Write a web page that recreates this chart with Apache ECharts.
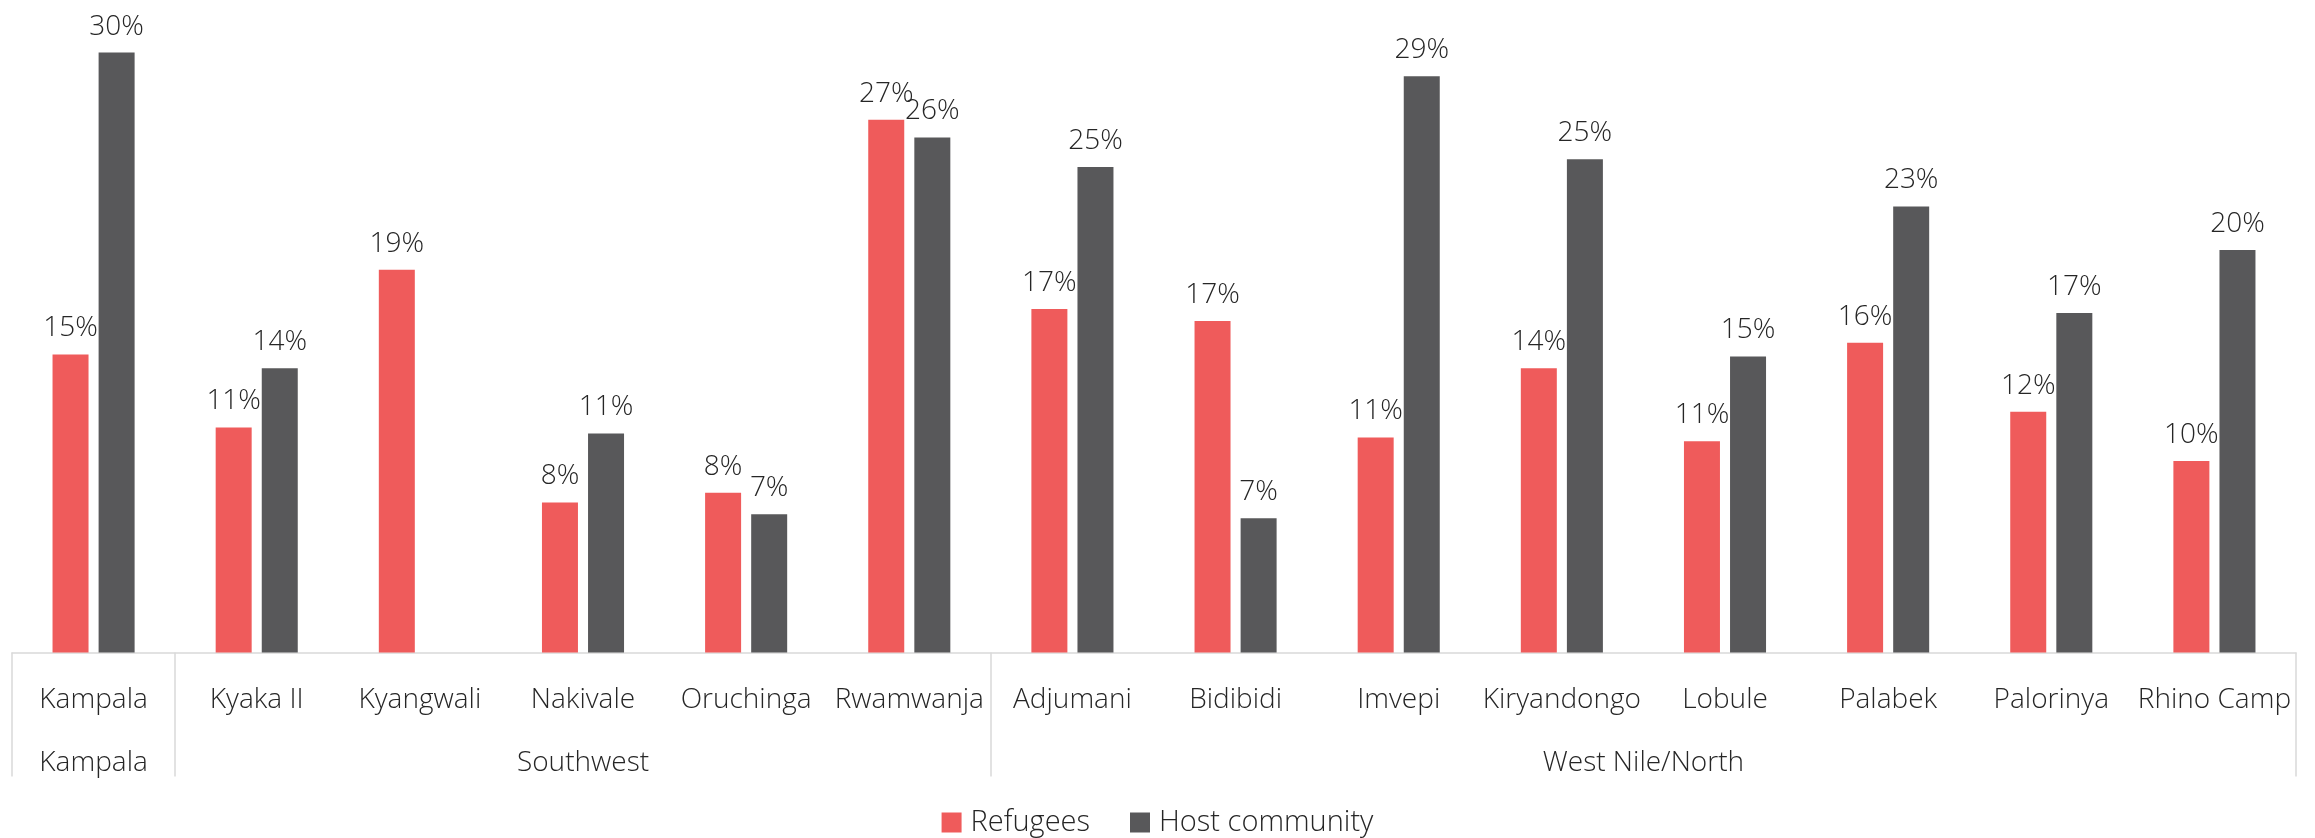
<!DOCTYPE html>
<html>
<head>
<meta charset="utf-8">
<script src="https://cdn.jsdelivr.net/npm/echarts@6/dist/echarts.min.js"></script>
<style>
html,body{margin:0;padding:0;background:#fff;}
#chart{width:2315px;height:838px;}
</style>
</head>
<body>
<div id="chart"></div>
<script>
// ---- data ----
const categories = ['Kampala','Kyaka II','Kyangwali','Nakivale','Oruchinga','Rwamwanja','Adjumani','Bidibidi','Imvepi','Kiryandongo','Lobule','Palabek','Palorinya','Rhino Camp'];
const regions = ['Kampala','Southwest','West Nile/North'];
const regionSizes = [1, 5, 8];
const refugees = [15.1, 11.4, 19.4, 7.6, 8.1, 27.0, 17.4, 16.8, 10.9, 14.4, 10.7, 15.7, 12.2, 9.7];
const host     = [30.4, 14.4, null, 11.1, 7.0, 26.1, 24.6, 6.8, 29.2, 25.0, 15.0, 22.6, 17.2, 20.4];
const seriesNames = ['Refugees', 'Host community'];

// ---- derived group boundaries / centres ----
const bounds = [0];
regionSizes.forEach(s => bounds.push(bounds[bounds.length - 1] + s));
const centres = regions.map((r, i) => (bounds[i] + bounds[i + 1]) / 2);

const FONT = '"Open Sans", "Noto Sans", sans-serif';
const TXT = '#262626';
const LINE = '#D9D9D9';

const chart = echarts.init(document.getElementById('chart'), null, {renderer: 'canvas'});
const labelCfg = {
  show: true,
  position: 'top',
  distance: 12,
  color: TXT,
  fontFamily: FONT,
  fontWeight: 300,
  fontSize: 28,
  formatter: p => Math.round(p.value) + '%'
};
chart.setOption({
  animation: false,
  backgroundColor: '#fff',
  grid: {left: 12, right: 19, top: 21, height: 631.5, containLabel: false},
  legend: {
    data: seriesNames,
    left: 'center',
    top: 803,
    icon: 'rect',
    itemWidth: 20,
    itemHeight: 20,
    itemGap: 40,
    textStyle: {color: TXT, fontFamily: FONT, fontWeight: 300, fontSize: 29, padding: [0, 0, 0, 4]}
  },
  xAxis: [
    {
      type: 'category',
      data: categories,
      position: 'bottom',
      axisLine: {show: true, lineStyle: {color: LINE, width: 1.5}},
      axisTick: {show: false},
      axisLabel: {color: TXT, fontFamily: FONT, fontWeight: 300, fontSize: 28, margin: 34, interval: 0}
    },
    {
      type: 'value',
      min: 0,
      max: categories.length,
      position: 'bottom',
      axisLine: {show: false},
      splitLine: {show: false},
      axisTick: {show: true, customValues: bounds, length: 124, inside: false, lineStyle: {color: LINE, width: 1.5}},
      axisLabel: {
        show: true,
        customValues: centres,
        margin: 96.5,
        color: TXT, fontFamily: FONT, fontWeight: 300, fontSize: 28,
        formatter: v => {
          const i = centres.findIndex(c => Math.abs(c - v) < 1e-6);
          return i >= 0 ? regions[i] : '';
        }
      }
    }
  ],
  yAxis: {
    type: 'value', min: 0, max: 32,
    show: false,
    splitLine: {show: false}
  },
  series: [
    {
      name: seriesNames[0], type: 'bar', xAxisIndex: 0,
      data: refugees, barWidth: 36, barGap: '28%',
      itemStyle: {color: '#EF5B5B'},
      label: labelCfg
    },
    {
      name: seriesNames[1], type: 'bar', xAxisIndex: 0,
      data: host, barWidth: 36, barGap: '28%',
      itemStyle: {color: '#58585A'},
      label: labelCfg
    }
  ]
});
</script>
</body>
</html>
